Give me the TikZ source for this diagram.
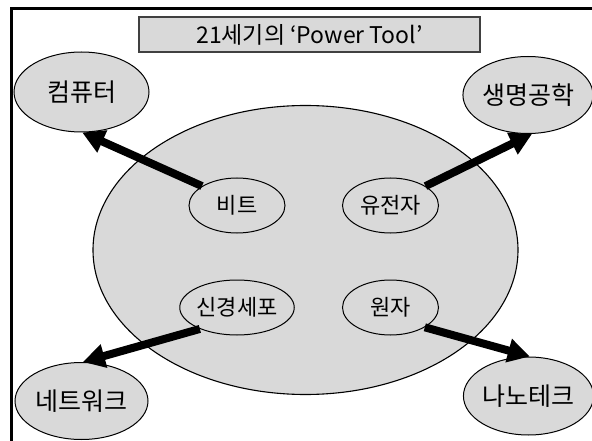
\documentclass[tikz,border=0pt]{standalone}
\usepackage{fontspec}
\setmainfont{Noto Sans CJK KR}
\usetikzlibrary{shapes.geometric,arrows.meta}
\definecolor{fillgray}{HTML}{D9D9D9}
\definecolor{boxline}{HTML}{404040}
\tikzset{
  outer/.style={ellipse, draw=black, line width=1pt, fill=fillgray, inner sep=0pt, font=\fontsize{25}{27}\selectfont},
  inner/.style={ellipse, draw=black, line width=1pt, fill=fillgray, inner sep=0pt, minimum width=96pt, minimum height=55pt, font=\fontsize{22}{24}\selectfont},
  bigarrow/.style={line width=8pt, -{Triangle[length=22pt,width=23pt]}},
}
\begin{document}
\begin{tikzpicture}[x=1pt,y=-1pt]
\useasboundingbox (0,0) rectangle (592,441);
\clip (0,0) rectangle (592,441);
\draw[line width=3pt] (11,8.5) rectangle (700,600);
\node[draw=boxline, line width=1.5pt, fill=fillgray, minimum width=341pt, minimum height=35pt, inner sep=0pt, font=\fontsize{23}{25}\selectfont] (title) at (309.5,34.5) {21세기의 ‘Power Tool’};
\node[ellipse, draw=black, line width=1.1pt, fill=fillgray, minimum width=425pt, minimum height=289pt, inner sep=0pt] (big) at (305.5,250) {};
\node[outer, minimum width=135pt, minimum height=80pt] (comp) at (81.5,92) {컴퓨터};
\node[outer, minimum width=128pt, minimum height=77pt] (bio) at (528,95) {생명공학};
\node[outer, minimum width=133pt, minimum height=77pt] (net) at (81.5,401) {네트워크};
\node[outer, minimum width=127pt, minimum height=78pt] (nano) at (528.5,396) {나노테크};
\node[inner] (bit) at (237,205.5) {비트};
\node[inner] (gene) at (390.5,205.5) {유전자};
\node[inner] (neuron) at (237,307.5) {신경세포};
\node[inner] (atom) at (390.5,307.5) {원자};
\draw[bigarrow] (bit.151) -- (comp.-89);
\draw[bigarrow] (gene.29) -- (bio.-84);
\draw[bigarrow] (neuron.210) -- (net.88);
\draw[bigarrow] (atom.-30) -- (nano.88);
\end{tikzpicture}
\end{document}
